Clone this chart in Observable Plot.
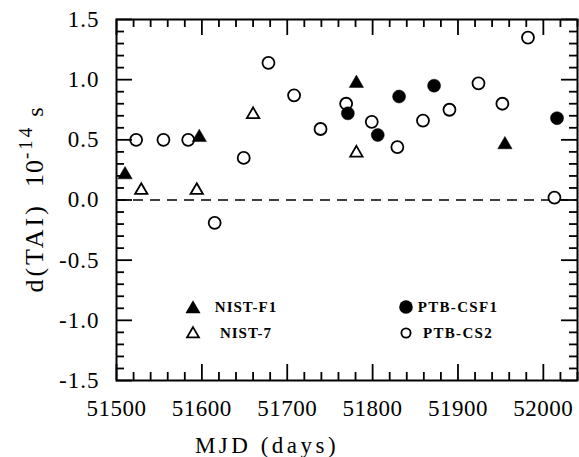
<!DOCTYPE html>
<html><head><meta charset="utf-8">
<script src="https://cdn.jsdelivr.net/npm/d3@7"></script>
<script src="https://cdn.jsdelivr.net/npm/@observablehq/plot@0.6"></script>
</head><body style="margin:0;background:#fff">
<div id="chart" style="width:579px;height:457px"></div>
<script>
// ---- data ----
const nistF1Mjd = [51510, 51597, 51781, 51955];
const nistF1Val = [0.21, 0.52, 0.97, 0.46];
const nist7Mjd = [51529, 51594, 51660, 51781];
const nist7Val = [0.08, 0.08, 0.71, 0.39];
const ptbCsf1Mjd = [51771, 51806, 51831, 51872, 52016];
const ptbCsf1Val = [0.72, 0.54, 0.86, 0.95, 0.68];
const ptbCs2Mjd = [51523, 51555, 51584, 51615, 51649, 51678, 51708, 51739, 51769, 51799, 51829, 51859, 51890, 51924, 51952, 51982, 52013];
const ptbCs2Val = [0.50, 0.50, 0.50, -0.19, 0.35, 1.14, 0.87, 0.59, 0.80, 0.65, 0.44, 0.66, 0.75, 0.97, 0.80, 1.35, 0.02];
const seriesNames = ["NIST-F1", "NIST-7", "PTB-CSF1", "PTB-CS2"];
const xMajorTicks = [51500, 51600, 51700, 51800, 51900, 52000];
const yMajorTicks = [-1.5, -1.0, -0.5, 0.0, 0.5, 1.0, 1.5];
const xLabel = "MJD (days)";

const xMinorTicks = d3.range(51500, 52041, 20).filter(v => !xMajorTicks.includes(v));
const yMinorTicks = d3.range(-15, 16, 1).map(v => v / 10).filter(v => !yMajorTicks.some(t => Math.abs(t - v) < 1e-9));

const rows = (xs, ys) => xs.map((x, i) => ({x, y: ys[i]}));
const f1 = rows(nistF1Mjd, nistF1Val);
const n7 = rows(nist7Mjd, nist7Val);
const csf1 = rows(ptbCsf1Mjd, ptbCsf1Val);
const cs2 = rows(ptbCs2Mjd, ptbCs2Val);

const serif = "'Liberation Serif', serif";
const SW = 1.8;
const K = "black";
const W = 579, H = 457, ML = 116, MR = 2, MT = 19, MB = 77;
const FW = W - ML - MR, FH = H - MT - MB;
const MAJ = 16, MIN = 8;

const plot = Plot.plot({
  width: W, height: H,
  marginLeft: ML, marginRight: MR, marginTop: MT, marginBottom: MB,
  x: {domain: [51500, 52040]},
  y: {domain: [-1.5, 1.5]},
  marks: [
    Plot.ruleY([0], {strokeDasharray: "10,7", strokeWidth: 1.6, stroke: K}),
    Plot.dot(cs2, {x: "x", y: "y", r: 6, symbol: "circle", stroke: K, fill: "white", strokeWidth: SW}),
    Plot.dot(n7, {x: "x", y: "y", r: 4.6, symbol: "triangle", stroke: K, fill: "white", strokeWidth: SW}),
    Plot.dot(csf1, {x: "x", y: "y", r: 6.5, symbol: "circle", fill: K, stroke: K, strokeWidth: 0.5}),
    Plot.dot(f1, {x: "x", y: "y", r: 5.3, symbol: "triangle", fill: K, stroke: K, strokeWidth: 0.5}),
    // inward ticks on all four sides
    Plot.tickX(xMajorTicks, {x: d => d, insetTop: FH - MAJ, strokeWidth: SW, stroke: K}),
    Plot.tickX(xMinorTicks, {x: d => d, insetTop: FH - MIN, strokeWidth: SW, stroke: K}),
    Plot.tickX(xMajorTicks, {x: d => d, insetBottom: FH - MAJ, strokeWidth: SW, stroke: K}),
    Plot.tickX(xMinorTicks, {x: d => d, insetBottom: FH - MIN, strokeWidth: SW, stroke: K}),
    Plot.tickY(yMajorTicks, {y: d => d, insetRight: FW - MAJ, strokeWidth: SW, stroke: K}),
    Plot.tickY(yMinorTicks, {y: d => d, insetRight: FW - MIN, strokeWidth: SW, stroke: K}),
    Plot.tickY(yMajorTicks, {y: d => d, insetLeft: FW - MAJ, strokeWidth: SW, stroke: K}),
    Plot.tickY(yMinorTicks, {y: d => d, insetLeft: FW - MIN, strokeWidth: SW, stroke: K}),
    Plot.axisX({ticks: xMajorTicks, anchor: "bottom", tickSize: 0, tickPadding: 19, label: null, fontSize: 23, fill: K, tickFormat: d => String(d)}),
    Plot.axisY({ticks: yMajorTicks, anchor: "left", tickSize: 0, tickPadding: 17, label: null, fontSize: 23, fill: K, tickFormat: d => d.toFixed(1)}),
    Plot.frame({strokeWidth: 2, stroke: K})
  ]
});
document.getElementById("chart").appendChild(plot);

const svg = d3.select(plot);
svg.style("font-family", serif);
svg.selectAll("text").style("font-family", serif);
svg.selectAll('g[aria-label="x-axis tick label"] text').attr("letter-spacing", 0.5);
svg.selectAll('g[aria-label="y-axis tick label"] text').attr("letter-spacing", 1);

// x-axis title
svg.append("text")
  .attr("x", 267).attr("y", 453)
  .style("font-family", serif).attr("font-size", 23).attr("letter-spacing", 3.5)
  .attr("fill", K)
  .text(xLabel);

// y-axis title with exponent
const yt = svg.append("text")
  .attr("transform", "translate(43,200) rotate(-90)")
  .attr("text-anchor", "middle")
  .style("font-family", serif).attr("font-size", 26).attr("fill", K);
yt.append("tspan").attr("letter-spacing", 3).text("d(TAI)");
yt.append("tspan").attr("dx", 16).attr("letter-spacing", 1).text("10");
yt.append("tspan").attr("font-size", 19).attr("dy", -11).attr("letter-spacing", 3).text("-14");
yt.append("tspan").attr("dx", 8).attr("dy", 11).attr("font-size", 24).text("s");

// legend (inside the plot area)
const lg = svg.append("g").style("font-family", serif).attr("font-weight", "bold").attr("font-size", 15).attr("fill", K);
const tri = (s) => d3.symbol(d3.symbolTriangle, s)();
lg.append("path").attr("d", tri(Math.PI * 5.6 * 5.6)).attr("transform", "translate(193,309)").attr("fill", K);
lg.append("path").attr("d", tri(Math.PI * 4.4 * 4.4)).attr("transform", "translate(193,334)").attr("fill", "white").attr("stroke", K).attr("stroke-width", SW);
lg.append("circle").attr("cx", 406).attr("cy", 307).attr("r", 6.8).attr("fill", K);
lg.append("circle").attr("cx", 406).attr("cy", 333).attr("r", 4.6).attr("fill", "white").attr("stroke", K).attr("stroke-width", SW);
lg.append("text").attr("x", 246).attr("y", 312).attr("letter-spacing", 1).text(seriesNames[0]);
lg.append("text").attr("x", 246).attr("y", 338).attr("letter-spacing", 1).text(seriesNames[1]);
lg.append("text").attr("x", 458).attr("y", 312).attr("letter-spacing", 1.3).text(seriesNames[2]);
lg.append("text").attr("x", 458).attr("y", 338).attr("letter-spacing", 1.3).text(seriesNames[3]);
</script></body></html>
